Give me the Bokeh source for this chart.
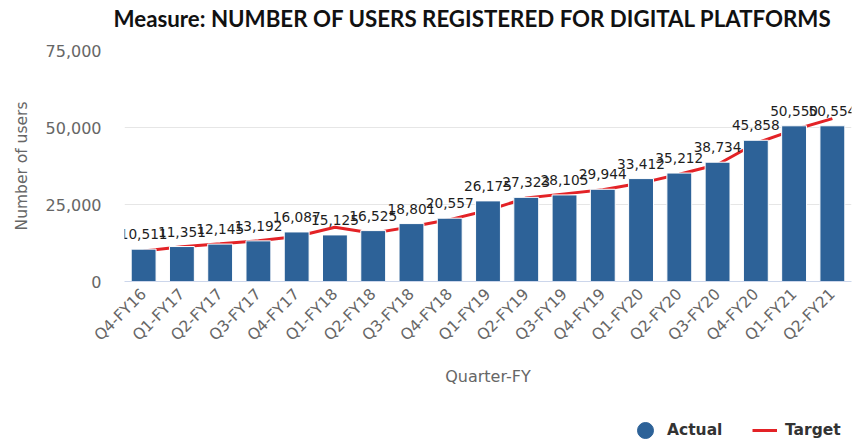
import math
from bokeh.plotting import figure
from bokeh.layouts import column
from bokeh.models import (FactorRange, Range1d, FixedTicker, NumeralTickFormatter,
                          Legend, LegendItem, ColumnDataSource, Title)
from bokeh.core.properties import value
from bokeh.embed import file_html
from bokeh.resources import INLINE

# ---- data ----
quarters = ["Q4-FY16", "Q1-FY17", "Q2-FY17", "Q3-FY17", "Q4-FY17", "Q1-FY18", "Q2-FY18",
            "Q3-FY18", "Q4-FY18", "Q1-FY19", "Q2-FY19", "Q3-FY19", "Q4-FY19", "Q1-FY20",
            "Q2-FY20", "Q3-FY20", "Q4-FY20", "Q1-FY21", "Q2-FY21"]
actual = [10511, 11351, 12145, 13192, 16087, 15125, 16525, 18801, 20557, 26175,
          27323, 28105, 29944, 33412, 35212, 38734, 45858, 50550, 50554]
target = [9900, 11300, 12250, 13250, 14600, 17600, 15700, 17750, 20100, 23150,
          27100, 28450, 29800, 31950, 34800, 38000, 44900, 49250, 52900]
y_ticks = [0, 25000, 50000, 75000]

title_text = "Measure: NUMBER OF USERS REGISTERED FOR DIGITAL PLATFORMS"
x_title = "Quarter-FY"
y_title = "Number of users"

BLUE = "#2d6298"
RED = "#e32226"
GRAY = "#666666"

labels = [f"{v:,}" for v in actual]
src = ColumnDataSource(dict(q=quarters, actual=actual, target=target, label=labels))

p = figure(width=855, height=400,
           x_range=FactorRange(factors=quarters, range_padding=0),
           y_range=Range1d(0, 75000),
           output_backend="svg", toolbar_location=None,
           min_border_left=124, min_border_right=4,
           min_border_top=50, min_border_bottom=119)
p.outline_line_color = None
p.background_fill_color = "white"
p.border_fill_color = "white"

# title (outermost) plus a thin spacer title between it and the frame
p.title.text = title_text
p.title.text_font = "Lato"
p.title.text_font_size = "22.3px"
p.title.text_font_style = "bold"
p.title.text_color = "#111111"
p.title.align = "left"
p.title.offset = -11
p.title.standoff = 0
p.add_layout(Title(text=" ", text_font_size="1px", standoff=16), "above")

# target line (behind the bars)
line_r = p.line(x="q", y="target", source=src, line_color=RED, line_width=3)
# bars
p.vbar(x="q", top="actual", source=src, width=0.65, fill_color=BLUE,
       line_color="white", line_width=1)
# value labels
p.text(x="q", y="actual", text="label", source=src, text_align="center",
       text_baseline="alphabetic", y_offset=-15,
       text_font=value("DejaVu Sans"), text_font_size=value("13.7px"),
       text_color="#1e1e1e")

# axes
p.yaxis.ticker = FixedTicker(ticks=y_ticks)
p.yaxis.formatter = NumeralTickFormatter(format="0,0")
p.yaxis.axis_line_color = None
p.yaxis.major_tick_line_color = None
p.yaxis.minor_tick_line_color = None
p.yaxis.major_tick_out = 0
p.yaxis.major_tick_in = 0
p.yaxis.major_label_standoff = 23
p.yaxis.major_label_text_font = "DejaVu Sans"
p.yaxis.major_label_text_font_size = "16px"
p.yaxis.major_label_text_color = GRAY
p.yaxis.axis_label = y_title
p.yaxis.axis_label_text_font = "DejaVu Sans"
p.yaxis.axis_label_text_font_size = "15.5px"
p.yaxis.axis_label_text_font_style = "normal"
p.yaxis.axis_label_text_color = GRAY
p.yaxis.axis_label_standoff = 12

p.xaxis.axis_line_color = "#ccd6eb"
p.xaxis.axis_line_width = 1
p.xaxis.major_tick_line_color = None
p.xaxis.minor_tick_line_color = None
p.xaxis.major_tick_out = 0
p.xaxis.major_tick_in = 0
p.xaxis.major_label_orientation = math.pi / 4
p.xaxis.major_label_standoff = 10
p.xaxis.major_label_text_font = "DejaVu Sans"
p.xaxis.major_label_text_font_size = "15.5px"
p.xaxis.major_label_text_color = GRAY
p.xaxis.axis_label = x_title
p.xaxis.axis_label_text_font = "DejaVu Sans"
p.xaxis.axis_label_text_font_size = "16px"
p.xaxis.axis_label_text_font_style = "normal"
p.xaxis.axis_label_text_color = GRAY
p.xaxis.axis_label_standoff = 13

p.xgrid.grid_line_color = None
p.ygrid.grid_line_color = "#e6e6e6"
p.ygrid.grid_line_width = 1

# ---- legend strip (its frame is aligned with the chart frame: 124..851) ----
lg = figure(width=855, height=43, output_backend="svg", toolbar_location=None,
            x_range=Range1d(0, 1), y_range=Range1d(0, 1),
            x_axis_location=None, y_axis_location=None,
            min_border=0, min_border_left=0, min_border_right=0,
            min_border_top=0, min_border_bottom=0)
lg.outline_line_color = None
lg.xgrid.grid_line_color = None
lg.ygrid.grid_line_color = None
# legend-only glyphs, placed outside the visible range
dot_r = lg.scatter(x=[-5], y=[-5], marker="circle", fill_color=BLUE, line_color=BLUE)
tline_r = lg.line(x=[-5, -4], y=[-5, -5], line_color=RED, line_width=3)

common = dict(orientation="horizontal", padding=0, margin=0, border_line_color=None,
              background_fill_alpha=0, label_text_font="DejaVu Sans",
              label_text_font_size="15.5px", label_text_font_style="bold",
              label_text_color="#333333")
leg1 = Legend(items=[LegendItem(label="Actual", renderers=[dot_r])],
              location=(501, -7), glyph_width=40, glyph_height=40, label_standoff=2,
              **common)
leg2 = Legend(items=[LegendItem(label="Target", renderers=[tline_r])],
              location=(628, 3), glyph_width=25, glyph_height=20, label_standoff=8,
              **common)
lg.add_layout(leg1, "center")
lg.add_layout(leg2, "center")

layout = column(p, lg, spacing=0)
open("out.html", "w").write(file_html(layout, INLINE))
